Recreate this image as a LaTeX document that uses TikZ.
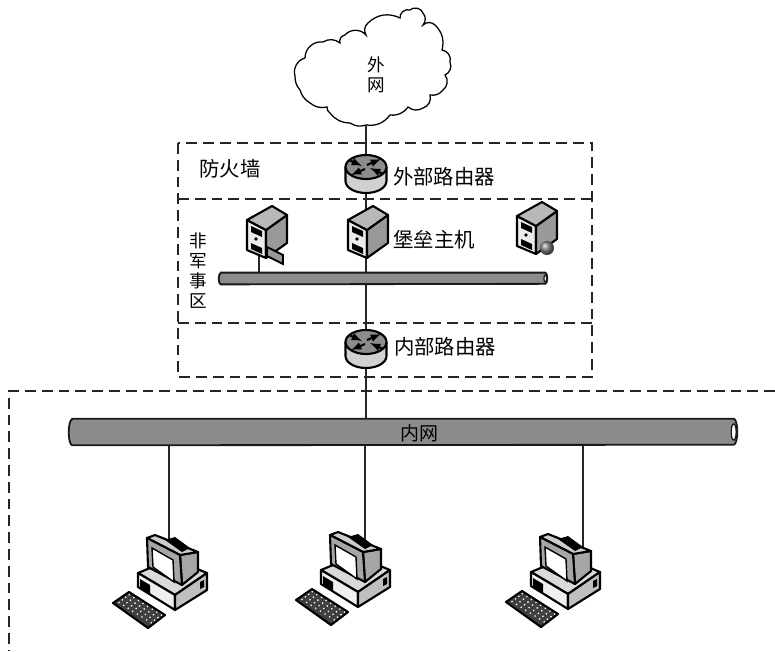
\documentclass[tikz,border=0pt]{standalone}
\usepackage{fontspec}
\setmainfont{Noto Sans CJK SC}
\tikzset{
	wire/.style={line width=0.9pt,black!85},
	zone/.style={line width=0.8pt,black!85,dash pattern=on 2.7mm off 1.5mm},
	lbl/.style={inner sep=0pt,align=center,font=\fontsize{14.5pt}{14.2pt}\selectfont},
	stack/.style={lbl,font=\fontsize{12.5pt}{14.2pt}\selectfont},
	hub/.style={inner sep=0pt,minimum size=1mm},
	bus/.style={inner sep=0pt},
	pipe/.style={line width=1.3pt,black!90,fill=black!45},
	unit/.style={line width=1.5pt,line join=round},
	turn/.style={-latex,line width=1.5pt},
	pics/router/.style={code={
		\draw[unit,fill=black!18] (-20.5,0) -- (-20.5,14) arc[start angle=180,end angle=0,x radius=20.5,y radius=12] -- (20.5,0);
		\draw[unit,fill=black!45] (0,0) ellipse[x radius=20.5,y radius=12];
		\draw[turn] (-1,2) -- (-15,8);
		\draw[turn] (1,-2) -- (15,-8);
		\draw[turn] (-17,-7) -- (-4,-1);
		\draw[turn] (17,7) -- (4,1);
	}},
	pics/server/.style={code={
		\draw[unit,fill=black!8] (13,20) -- (32,30) -- (32,58) -- (13,50) -- cycle;
		\draw[unit,fill=black!40] (32,30) -- (53,15) -- (53,43) -- (32,58) -- cycle;
		\draw[unit,fill=black!28] (13,20) -- (38,6) -- (53,15) -- (32,30) -- cycle;
		\fill (17,26) -- (28,31) -- (28,37) -- (17,32) -- cycle;
		\fill (17,43) -- (28,48) -- (28,54) -- (17,49) -- cycle;
		\fill (22,39) circle (1.8);
	}},
	pics/pc/.style={code={
		\draw[unit,fill=black!15] (38,63) -- (50,58) -- (95,58) -- (107,63) -- (75,85) -- cycle;
		\draw[unit,fill=black!6] (38,63) -- (75,85) -- (75,100) -- (38,77) -- cycle;
		\draw[unit,fill=black!25] (75,85) -- (107,63) -- (107,80) -- (75,100) -- cycle;
		\fill (40,69) -- (50,75) -- (50,85) -- (40,78) -- cycle;
		\fill (100,72) -- (104,70) -- (104,77) -- (100,79) -- cycle;
		\draw[unit,fill=black!35] (80,45) -- (98,42) -- (98,62) -- (82,75) -- cycle;
		\draw[unit,fill=black!20] (47,28) -- (55,25) -- (98,42) -- (80,45) -- cycle;
		\draw[unit,fill=black!35] (47,28) -- (80,45) -- (82,75) -- (48,57) -- cycle;
		\draw[line width=1pt,fill=white] (52,38) -- (73,50) -- (74,72) -- (53,57) -- cycle;
		\fill (65,30) -- (75,27) -- (90,38) -- (82,42) -- cycle;
		\draw[unit,fill=black!75] (13,93) -- (29,82) -- (65,105) -- (48,118) -- cycle;
		\foreach \r in {0,...,3}
			\foreach \c in {0,...,7}
				\fill[white] ({19+\c*4.6+\r*3.4},{92.5+\c*2.9-\r*2.6}) circle (0.9);
	}},
}
\newcommand{\drawpipe}[3]{
	\draw[pipe] ([xshift=#2]#1.north west) -- ([xshift=-#2]#1.north east)
		arc[start angle=90,end angle=-90,x radius=#2,y radius=#3]
		-- ([xshift=#2]#1.south west)
		arc[start angle=270,end angle=90,x radius=#2,y radius=#3] -- cycle;
	\draw[line width=0.9pt,black!90,fill=white] ([xshift=-#2]#1.east) ellipse[x radius=0.7*#2,y radius=0.62*#3];
}
\begin{document}
\begin{tikzpicture}[x=0.25mm,y=-0.25mm]
	\useasboundingbox (0,0) rectangle (775,651);
	\draw[line width=0.9pt,fill=white] (295,76) to[bend left=45] (305,58) to[bend left=50] (323,42) to[bend left=35] (340,43)
		to[bend left=50] (345,35) to[bend left=50] (366,35) to[bend left=40] (368,23) to[bend left=35] (400,18)
		to[bend left=60] (410,10) to[bend left=60] (423,13) to[bend left=40] (423,25) to[bend left=45] (435,25)
		to[bend left=30] (442,50) to[bend left=50] (450,62) to[bend left=45] (445,75) to[bend left=45] (443,90)
		to[bend left=30] (430,95) to[bend left=45] (423,108) to[bend left=35] (408,107) to[bend left=30] (390,115)
		to[bend left=30] (366,125) to[bend left=25] (350,123) to[bend left=25] (330,113) to[bend left=30] (327,107)
		to[bend left=25] (310,103) to[bend left=20] (300,90) to[bend left=20] cycle;
	\node[stack,minimum height=2.5cm] (outnet) at (376,75) {外\\网};
	\node[hub] (outrouter) at (366,167) {};
	\node[hub] (bastion) at (366,230) {};
	\node[hub] (inrouter) at (366,342) {};
	\node[hub] (webhost) at (259,240) {};
	\node[hub] (pcone) at (169,570) {};
	\node[hub] (pctwo) at (365,570) {};
	\node[hub] (pcthree) at (583,570) {};
	\node[bus,minimum width=8.2cm,minimum height=0.28cm] (dmzbus) at (383,278.5) {};
	\node[bus,minimum width=16.7cm,minimum height=0.65cm] (lanbus) at (403,432) {};
	\draw[zone] (178,143) rectangle (592,377);
	\draw[zone] (178,199) -- (592,199);
	\draw[zone] (178,323) -- (592,323);
	\draw[zone] (775,391) -- (9,391) -- (9,651);
	\draw[wire] (outnet.south -| outrouter) -- (outrouter);
	\draw[wire] (outrouter) -- (bastion);
	\draw[wire] (bastion) -- (inrouter);
	\draw[wire] (inrouter) -- (lanbus.north -| inrouter);
	\draw[wire] (webhost) -- (webhost |- dmzbus.north);
	\draw[wire] (pcone |- lanbus.south) -- (pcone);
	\draw[wire] (pctwo |- lanbus.south) -- (pctwo);
	\draw[wire] (pcthree |- lanbus.south) -- (pcthree);
	\drawpipe{dmzbus}{0.5mm}{1.4mm}
	\drawpipe{lanbus}{0.9mm}{3.25mm}
	\pic at (366,167) {router};
	\pic at (366,342) {router};
	\pic at (234,200) {server};
	\pic at (335,200) {server};
	\pic at (504,196) {server};
	\draw[line width=1.3pt,fill=black!40] (267,247) -- (283,255) -- (283,264) -- (267,256) -- cycle;
	\shade[ball color=black!50] (547,248) circle (7);
	\pic at (100,510) {pc};
	\pic at (283,507) {pc};
	\pic at (493,509) {pc};
	\node[lbl] (firewall) at (230,169) {防火墙};
	\node[lbl] (outtext) at (444,177) {外部路由器};
	\node[lbl] (bastiontext) at (434,240) {堡垒主机};
	\node[lbl] (intext) at (445,347) {内部路由器};
	\node[stack] (dmztext) at (198,271) {非\\军\\事\\区};
	\node[lbl,font=\fontsize{13.5pt}{13.5pt}\selectfont] (lantext) at (419,433) {内网};
\end{tikzpicture}
\end{document}
